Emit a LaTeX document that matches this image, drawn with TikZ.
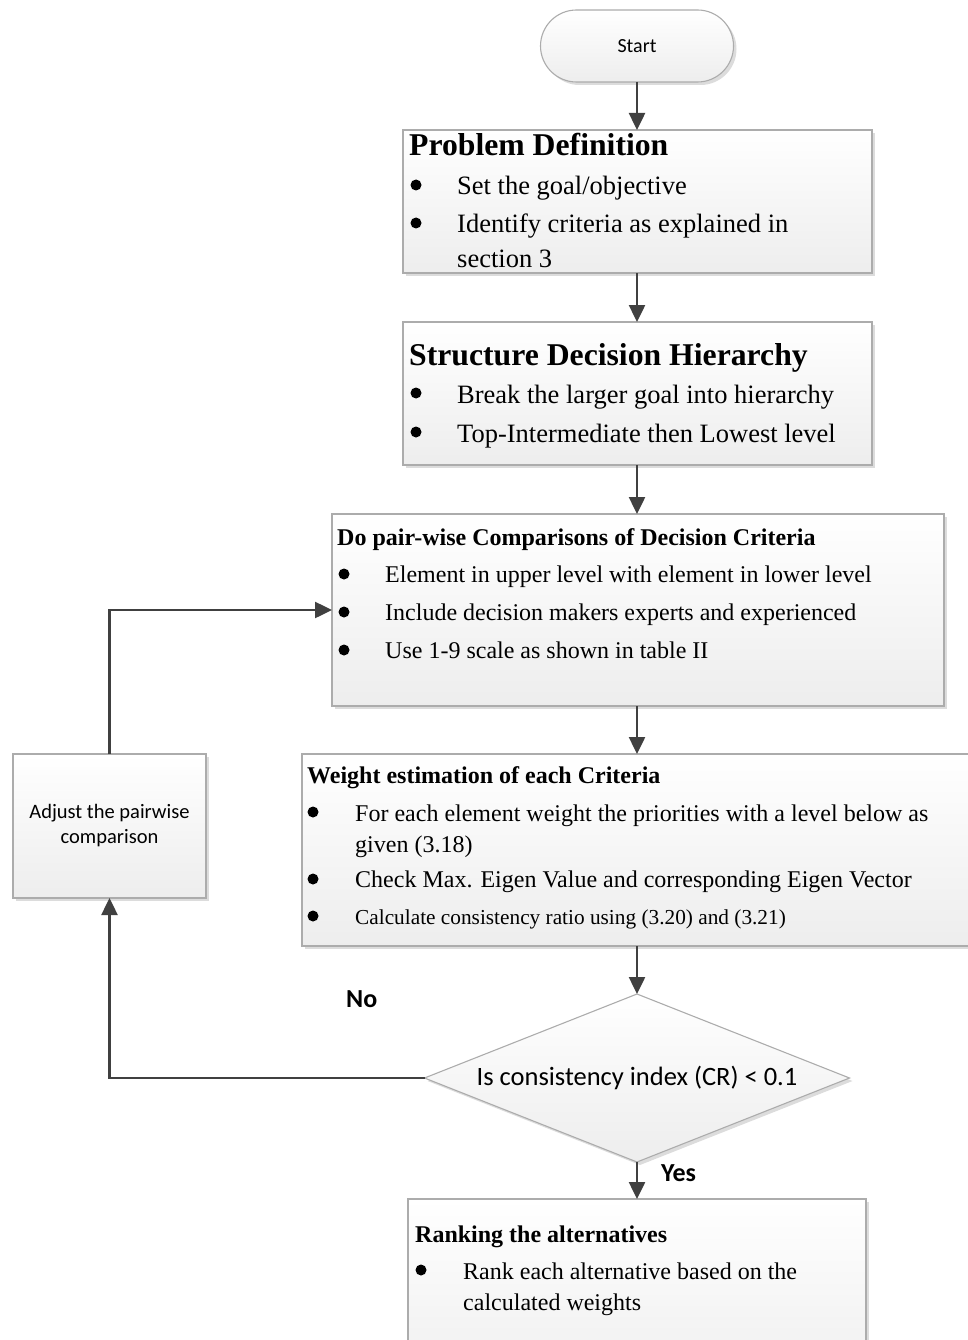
\documentclass[tikz,border=0pt]{standalone}
\usepackage{fontspec}
\setmainfont{Liberation Serif}
\newfontfamily\calibrifont{Carlito}
\usetikzlibrary{arrows.meta,shapes.geometric,shadows}

% font sizes used in the chart
\newcommand\fBigTitle{\fontsize{31.7}{38}\selectfont\bfseries}
\newcommand\fBigBody{\fontsize{26.5}{32}\selectfont}
\newcommand\fMidTitle{\fontsize{24}{29}\selectfont\bfseries}
\newcommand\fMidBody{\fontsize{24}{29}\selectfont}
\newcommand\fSmallBody{\fontsize{21.3}{26}\selectfont}

\begin{document}
\begin{tikzpicture}[x=1pt,y=-1pt,
  shade/.style={top color=white, bottom color=gray!14,
    drop shadow={shadow xshift=3pt, shadow yshift=-3pt, fill=gray!55, opacity=0.5}},
  box/.style={shade, draw=gray!65, line width=1.1pt, rectangle,
    inner sep=0pt, outer sep=0pt, anchor=north west},
  txt/.style={anchor=base west, inner sep=0pt},
  dot/.style={circle, fill=black, inner sep=0pt, minimum size=11pt},
  arr/.style={draw=black!75, line width=2.5pt,
    -{Triangle[length=17pt,width=16pt]}},
  lab/.style={anchor=base west, inner sep=0pt, font=\calibrifont\bfseries\fontsize{26}{30}\selectfont}
]
\useasboundingbox (0,0) rectangle (968,1340);
\clip (0,0) rectangle (968,1340);

% start terminal
\node[shade, draw=gray!65, line width=1.1pt, rounded corners=36pt,
  minimum width=193pt, minimum height=72pt, inner sep=0pt, outer sep=0pt,
  font=\calibrifont\fontsize{20}{24}\selectfont] (start) at (637,46) {Start};

% problem definition
\node[box, minimum width=469pt, minimum height=143pt] (pd) at (403,130) {};
\node[txt, font=\fBigTitle] (pdT) at (409,156) {Problem Definition};
\node[dot] (pdB1) at (416,185) {};
\node[txt, font=\fBigBody] (pdL1) at (457,195) {Set the goal/objective};
\node[dot] (pdB2) at (416,223) {};
\node[txt, font=\fBigBody] (pdL2) at (457,233) {Identify criteria as explained in};
\node[txt, font=\fBigBody] (pdL3) at (457,267) {section 3};

% structure decision hierarchy
\node[box, minimum width=469pt, minimum height=143pt] (sd) at (403,322) {};
\node[txt, font=\fBigTitle] (sdT) at (409,365) {Structure Decision Hierarchy};
\node[dot] (sdB1) at (416,393) {};
\node[txt, font=\fBigBody] (sdL1) at (457,403) {Break the larger goal into hierarchy};
\node[dot] (sdB2) at (416,432) {};
\node[txt, font=\fBigBody] (sdL2) at (457,442) {Top-Intermediate then Lowest level};

% pair-wise comparisons
\node[box, minimum width=612pt, minimum height=192pt] (pw) at (332,514) {};
\node[txt, font=\fMidTitle] (pwT) at (337,545) {Do pair-wise Comparisons of Decision Criteria};
\node[dot] (pwB1) at (344,574) {};
\node[txt, font=\fMidBody] (pwL1) at (385,582) {Element in upper level with element in lower level};
\node[dot] (pwB2) at (344,612) {};
\node[txt, font=\fMidBody] (pwL2) at (385,620) {Include decision makers experts and experienced};
\node[dot] (pwB3) at (344,650) {};
\node[txt, font=\fMidBody] (pwL3) at (385,658) {Use 1-9 scale as shown in table II};

% weight estimation
\node[box, minimum width=720pt, minimum height=192pt] (wt) at (302,754) {};
\node[txt, font=\fMidTitle] (wtT) at (307,783) {Weight estimation of each Criteria};
\node[dot] (wtB1) at (313,812) {};
\node[txt, font=\fMidBody] (wtL1) at (355,821) {For each element weight the priorities with a level below as};
\node[txt, font=\fMidBody] (wtL2) at (355,852) {given (3.18)};
\node[dot] (wtB2) at (313,879) {};
\node[txt, font=\fMidBody] (wtL3) at (355,887) {Check Max. Eigen Value and corresponding Eigen Vector};
\node[dot] (wtB3) at (313,916) {};
\node[txt, font=\fSmallBody] (wtL4) at (355,924) {Calculate consistency ratio using (3.20) and (3.21)};

% consistency test
\node[shade, draw=gray!65, line width=1.1pt, diamond, aspect=2.53,
  inner sep=0pt, outer sep=0pt,
  minimum width=425pt, minimum height=168pt,
  font=\calibrifont\fontsize{26.5}{30}\selectfont] (dec) at (637,1078)
  {Is consistency index (CR) < 0.1};

% ranking
\node[box, minimum width=458pt, minimum height=200pt] (rk) at (408,1199) {};
\node[txt, font=\fMidTitle] (rkT) at (415,1242) {Ranking the alternatives};
\node[dot] (rkB1) at (421,1270) {};
\node[txt, font=\fMidBody] (rkL1) at (463,1279) {Rank each alternative based on the};
\node[txt, font=\fMidBody] (rkL2) at (463,1310) {calculated weights};

% adjustment step
\node[box, minimum width=193pt, minimum height=144pt] (adj) at (13,754) {};
\node[align=center, inner sep=0pt, font=\calibrifont\fontsize{20.5}{25}\selectfont]
  (adjT) at (109.5,826) {Adjust the pairwise\\comparison};

% branch labels
\node[lab] (no) at (346,1007) {No};
\node[lab] (yes) at (661,1181) {Yes};

% connectors
\draw[arr] (start.south) -- (start.south |- pd.north);
\draw[arr] (pd.south -| start.south) -- (sd.north -| start.south);
\draw[arr] (sd.south -| start.south) -- (pw.north -| start.south);
\draw[arr] (pw.south -| start.south) -- (wt.north -| start.south);
\draw[arr] (wt.south -| start.south) -- (dec.north);
\draw[arr] (dec.south) -- (rk.north -| dec.south);
\draw[arr] (dec.west) -| (adj.south);
\draw[arr] (adj.north) |- (pw.west);
\end{tikzpicture}
\end{document}
